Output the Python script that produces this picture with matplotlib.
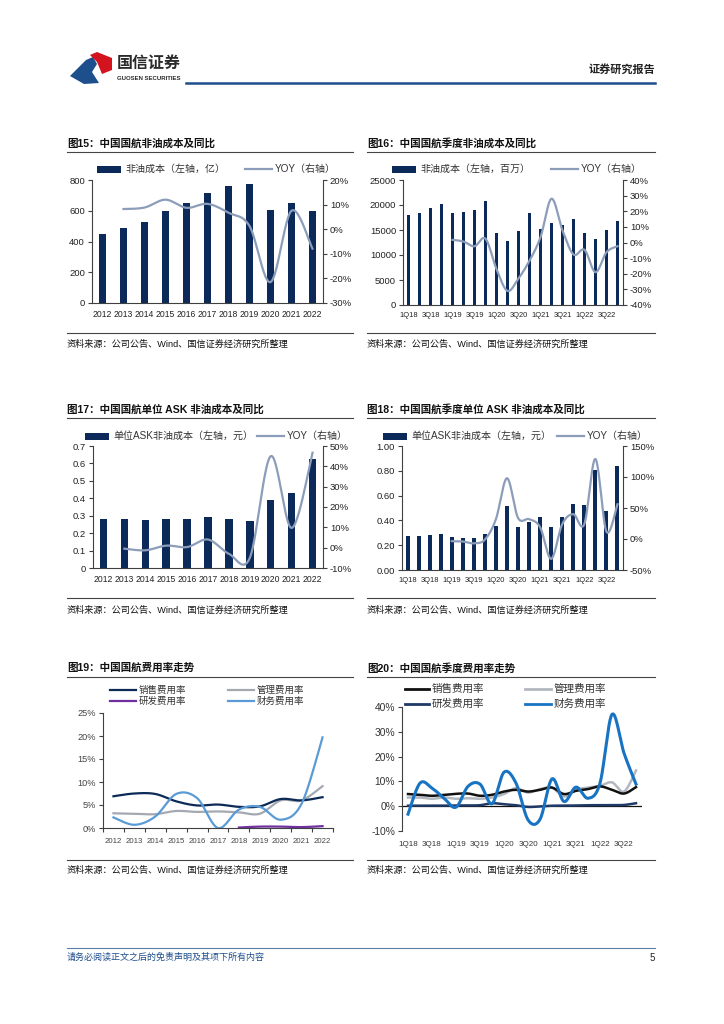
import numpy as np
import matplotlib
matplotlib.use('Agg')
import matplotlib.pyplot as plt
from matplotlib.patches import Rectangle, Polygon
from matplotlib.lines import Line2D
from matplotlib.ticker import FuncFormatter

plt.rcParams['font.family'] = ['Liberation Sans', 'Noto Sans CJK SC']

# ---- data ----
years = ['2012', '2013', '2014', '2015', '2016', '2017', '2018', '2019', '2020', '2021', '2022']
quarters = ['1Q18', '2Q18', '3Q18', '4Q18', '1Q19', '2Q19', '3Q19', '4Q19', '1Q20', '2Q20',
            '3Q20', '4Q20', '1Q21', '2Q21', '3Q21', '4Q21', '1Q22', '2Q22', '3Q22', '4Q22']
nan = np.nan

# fig15: annual non-fuel cost (亿) and yoy (%)
cost_y = [450, 487, 530, 597, 648, 715, 763, 773, 603, 648, 597]
cost_y_yoy = [nan, 8.2, 8.8, 12.0, 8.7, 10.3, 6.7, 1.3, -21.5, 7.5, -7.9]

# fig16: quarterly non-fuel cost (百万) and yoy (%)
cost_q = [18100, 18400, 19500, 20300, 18500, 18700, 19100, 20900, 14500, 12900,
          14900, 18500, 15300, 16500, 16100, 17300, 14500, 13300, 15100, 16900]
cost_q_yoy = [nan, nan, nan, nan, 1.7, 0.6, -2.4, 2.4, -17.0, -31.0,
              -23.0, -11.6, 3.4, 28.0, 7.7, -7.7, -4.7, -19.0, -6.2, -2.4]

# fig17: annual unit ASK non-fuel cost (元) and yoy (%)
ask_y = [0.28, 0.28, 0.275, 0.28, 0.28, 0.29, 0.28, 0.27, 0.39, 0.43, 0.625]
ask_y_yoy = [nan, -0.5, -1.3, 1.0, 0.3, 4.0, -3.0, -5.0, 45.0, 9.7, 46.7]

# fig18: quarterly unit ASK non-fuel cost (元) and yoy (%)
ask_q = [0.275, 0.272, 0.28, 0.29, 0.265, 0.26, 0.262, 0.29, 0.355, 0.515,
         0.35, 0.385, 0.425, 0.35, 0.425, 0.535, 0.525, 0.805, 0.475, 0.835]
ask_q_yoy = [nan, nan, nan, nan, -3.5, -4.0, -7.0, -1.0, 32.0, 98.0,
             34.0, 32.0, 19.0, -32.0, 24.0, 40.0, 24.0, 129.0, 12.0, 56.0]

# fig19: annual expense ratios (%)
sales_y = [6.9, 7.5, 7.4, 5.8, 4.9, 5.1, 4.6, 4.7, 6.3, 6.0, 6.7]
admin_y = [3.2, 3.1, 3.0, 3.7, 3.5, 3.6, 3.4, 3.1, 6.0, 6.0, 9.1]
rnd_y = [nan, nan, nan, nan, nan, nan, 0.1, 0.3, 0.3, 0.2, 0.4]
fin_y = [2.3, 0.7, 2.5, 7.4, 6.5, 0.0, 4.0, 4.6, 1.8, 5.3, 19.7]

# fig20: quarterly expense ratios (%)
sales_q = [4.9, 4.6, 4.2, 4.6, 5.0, 5.1, 4.2, 4.6, 5.9, 6.6,
           5.9, 6.6, 7.5, 4.9, 6.2, 6.9, 8.0, 6.6, 5.1, 7.7]
admin_q = [3.5, 3.5, 3.0, 3.5, 3.0, 3.2, 3.0, 3.5, 4.9, 7.3,
           5.5, 6.9, 7.5, 3.9, 6.6, 7.5, 8.2, 9.6, 5.9, 14.4]
rnd_q = [0.2, 0.2, 0.2, 0.2, 0.3, 0.3, 0.4, 1.2, 0.8, 0.4,
         -0.3, -0.1, 0.2, 0.2, 0.3, 0.4, 0.4, 0.4, 0.5, 1.2]
fin_q = [-3.2, 9.3, 7.3, 3.2, -0.4, 8.0, 8.9, 1.0, 13.7, 9.3,
         -5.5, -5.3, 11.0, 1.9, 7.7, 3.2, 9.3, 37.0, 21.4, 8.9]

NAVY = '#0b2a59'
YOY_C = '#8c9dba'
AX_C = '#404040'
TXT_C = '#222222'
W, H = 724, 1024

fig = plt.figure(figsize=(7.24, 10.24), dpi=100)


def add_ax(x0, y0, x1, y1):
    return fig.add_axes([x0 / W, 1 - y1 / H, (x1 - x0) / W, (y1 - y0) / H])


def ftxt(x, y, s, **kw):
    kw.setdefault('va', 'center')
    kw.setdefault('color', TXT_C)
    fig.text(x / W, 1 - y / H, s, **kw)


def hline(x0, x1, y, color='#444444', lw=0.8):
    fig.add_artist(Line2D([x0 / W, x1 / W], [1 - y / H, 1 - y / H], color=color, lw=lw))


def leg_bar(x, y, label, w=24, h=7, size=7.2):
    fig.add_artist(Rectangle((x / W, 1 - (y + h / 2) / H), w / W, h / H,
                             transform=fig.transFigure, color=NAVY, lw=0))
    ftxt(x + w + 4, y, label, fontsize=size, color='#333333')


def leg_line(x, y, label, color, w=27, lw=1.6, size=7.2):
    fig.add_artist(Line2D([x / W, (x + w) / W], [1 - y / H, 1 - y / H], color=color, lw=lw))
    ftxt(x + w + 3, y, label, fontsize=size, color='#333333')


def smooth(x, y, n=24):
    # Catmull-Rom curve through the points (like Excel smoothed lines)
    x = np.asarray(x, float)
    y = np.asarray(y, float)
    ok = ~np.isnan(y)
    x, y = x[ok], y[ok]
    px = np.concatenate([[x[0]], x, [x[-1]]])
    py = np.concatenate([[y[0]], y, [y[-1]]])
    t = np.linspace(0, 1, n, endpoint=False)
    xs, ys = [], []
    for i in range(1, len(px) - 2):
        for arr, out in ((px, xs), (py, ys)):
            a0, a1, a2, a3 = arr[i - 1:i + 3]
            out.append(0.5 * (2 * a1 + (-a0 + a2) * t + (2 * a0 - 5 * a1 + 4 * a2 - a3) * t ** 2
                              + (-a0 + 3 * a1 - 3 * a2 + a3) * t ** 3))
    xs.append([x[-1]])
    ys.append([y[-1]])
    return np.concatenate(xs), np.concatenate(ys)


def style_spines(ax, show):
    for s in ['top', 'right', 'left', 'bottom']:
        ax.spines[s].set_visible(s in show)
        ax.spines[s].set_color(AX_C)
        ax.spines[s].set_linewidth(0.8)


def bar_line(box, labels, bars, yoy, lim_l, step_l, fmt_l, lim_r, step_r, every=1, width=0.38,
             xsize=6.2):
    ax = add_ax(*box)
    x = np.arange(len(bars))
    ax.bar(x, bars, width=width, color=NAVY, zorder=2)
    ax.set_xlim(-0.5, len(bars) - 0.5)
    ax.set_ylim(*lim_l)
    ax.set_yticks(np.arange(lim_l[0], lim_l[1] + step_l / 2, step_l))
    ax.yaxis.set_major_formatter(FuncFormatter(fmt_l))
    ax.set_xticks(x[::every])
    ax.set_xticklabels(labels[::every])
    ax.tick_params(axis='x', length=0, pad=5, labelsize=xsize, colors=TXT_C)
    ax.tick_params(axis='y', length=3, width=0.8, direction='out', labelsize=6.8, pad=2,
                   colors=AX_C, labelcolor=TXT_C)
    style_spines(ax, ['left', 'bottom'])
    ax2 = ax.twinx()
    sx, sy = smooth(x, yoy)
    ax2.plot(sx, sy, color=YOY_C, lw=1.6, zorder=3)
    ax2.set_ylim(*lim_r)
    ax2.set_yticks(np.arange(lim_r[0], lim_r[1] + step_r / 2, step_r))
    ax2.yaxis.set_major_formatter(FuncFormatter(lambda v, p: f'{v:.0f}%'))
    ax2.tick_params(axis='y', length=3, width=0.8, direction='out', labelsize=6.8, pad=2,
                    colors=AX_C, labelcolor=TXT_C)
    style_spines(ax2, ['right'])
    return ax, ax2


# ---- header ----
fig.add_artist(Polygon([(70 / W, 1 - 76 / H), (86 / W, 1 - 60 / H), (93 / W, 1 - 57 / H),
                        (97 / W, 1 - 64 / H), (92 / W, 1 - 72 / H), (99 / W, 1 - 83 / H),
                        (84 / W, 1 - 84 / H)],
                       closed=True, transform=fig.transFigure, color='#1d4f8c', lw=0))
fig.add_artist(Polygon([(90 / W, 1 - 55 / H), (97 / W, 1 - 52 / H), (112 / W, 1 - 58 / H),
                        (112 / W, 1 - 70 / H), (102 / W, 1 - 74 / H), (97 / W, 1 - 62 / H)],
                       closed=True, transform=fig.transFigure, color='#d3141f', lw=0))
ftxt(117, 63, '国信证券', fontsize=11.5, fontweight='bold', color='#2a2a2a')
ftxt(117, 78, 'GUOSEN SECURITIES', fontsize=4.3, fontweight='bold', color='#2a2a2a')
ftxt(655, 69, '证券研究报告', fontsize=8, fontweight='bold', color='#222222', ha='right')
hline(186, 655, 83, color='#1f4e8c', lw=1.8)

# ---- footer ----
hline(67, 655, 948, color='#5a7fa8', lw=0.8)
ftxt(67, 957, '请务必阅读正文之后的免责声明及其项下所有内容', fontsize=6.5,
     color='#1f4e8c', style='italic')
ftxt(655, 958, '5', fontsize=7, ha='right', color='#222222')

# ---- titles / frame lines / sources ----
titles = [
    (67, 143, '图15：中国国航非油成本及同比'),
    (367, 143, '图16：中国国航季度非油成本及同比'),
    (67, 409, '图17：中国国航单位 ASK 非油成本及同比'),
    (367, 409, '图18：中国国航季度单位 ASK 非油成本及同比'),
    (67, 668, '图19：中国国航费用率走势'),
    (367, 668, '图20：中国国航季度费用率走势'),
]
for x, y, s in titles:
    ftxt(x, y, s, fontsize=7.6, fontweight='bold', color='#111111')
for y in [152, 418, 677, 333, 598, 860]:
    hline(67, 353, y)
    hline(367, 655, y)
src = '资料来源：公司公告、Wind、国信证券经济研究所整理'
for y in [344, 610, 870]:
    ftxt(67, y, src, fontsize=6.6, color='#111111')
    ftxt(367, y, src, fontsize=6.6, color='#111111')

# ---- fig15 ----
bar_line((92, 180, 323, 303), years, cost_y, cost_y_yoy, (0, 800), 200,
         lambda v, p: f'{v:.0f}', (-30, 20), 10)
leg_bar(97, 169, '非油成本（左轴，亿）')
leg_line(245, 169, 'YOY（右轴）', YOY_C)

# ---- fig16 ----
bar_line((403, 180, 623, 305), quarters, cost_q, cost_q_yoy, (0, 25000), 5000,
         lambda v, p: f'{v:.0f}', (-40, 40), 10, every=2, width=0.36, xsize=5.4)
leg_bar(392, 169, '非油成本（左轴，百万）')
leg_line(551, 169, 'YOY（右轴）', YOY_C)

# ---- fig17 ----
bar_line((93, 446, 323, 568), years, ask_y, ask_y_yoy, (0, 0.7), 0.1,
         lambda v, p: '0' if abs(v) < 1e-9 else f'{v:.1f}', (-10, 50), 10, width=0.36)
leg_bar(85, 436, '单位ASK非油成本（左轴，元）')
leg_line(257, 436, 'YOY（右轴）', YOY_C)

# ---- fig18 ----
bar_line((402, 446, 623, 570), quarters, ask_q, ask_q_yoy, (0, 1.0), 0.2,
         lambda v, p: f'{v:.2f}', (-50, 150), 50, every=2, width=0.36, xsize=5.4)
leg_bar(383, 436, '单位ASK非油成本（左轴，元）')
leg_line(557, 436, 'YOY（右轴）', YOY_C)

# ---- fig19 ----
ax5 = add_ax(103, 713, 333, 828)
x5 = np.arange(len(years))
for vals, c in [(admin_y, '#a4a9b1'), (sales_y, '#0c2a55'), (rnd_y, '#7030a0'), (fin_y, '#5b9bd5')]:
    sx, sy = smooth(x5, vals)
    ax5.plot(sx, sy, color=c, lw=1.6)
ax5.set_xlim(-0.5, len(years) - 0.5)
ax5.set_ylim(0, 25)
ax5.set_yticks(np.arange(0, 26, 5))
ax5.yaxis.set_major_formatter(FuncFormatter(lambda v, p: f'{v:.0f}%'))
ax5.set_xticks(x5)
ax5.set_xticklabels(years)
ax5.set_xticks(np.arange(-0.5, len(years), 1), minor=True)
ax5.tick_params(axis='x', which='major', length=0, pad=7, labelsize=5.6, labelcolor='#444444')
ax5.tick_params(axis='x', which='minor', length=3, width=0.8, color=AX_C)
ax5.tick_params(axis='y', length=3, width=0.8, labelsize=6.6, pad=2, color=AX_C, labelcolor='#444444')
style_spines(ax5, ['left', 'bottom'])
leg_line(110, 690, '销售费用率', '#0c2a55', w=26, size=6.8)
leg_line(228, 690, '管理费用率', '#a4a9b1', w=26, size=6.8)
leg_line(110, 701, '研发费用率', '#7030a0', w=26, size=6.8)
leg_line(228, 701, '财务费用率', '#5b9bd5', w=26, size=6.8)

# ---- fig20 ----
ax6 = add_ax(402, 707, 642, 831)
x6 = np.arange(len(quarters))
ax6.axhline(0, color='#111111', lw=0.9, zorder=1)
for vals, c, lw in [(admin_q, '#b3b8c0', 1.8), (sales_q, '#111111', 1.8),
                    (rnd_q, '#1f3a66', 1.8), (fin_q, '#1874c2', 2.2)]:
    sx, sy = smooth(x6, vals)
    ax6.plot(sx, sy, color=c, lw=lw, zorder=2)
ax6.set_xlim(-0.5, len(quarters) - 0.5)
ax6.set_ylim(-10, 40)
ax6.set_yticks(np.arange(-10, 41, 10))
ax6.yaxis.set_major_formatter(FuncFormatter(lambda v, p: f'{v:.0f}%'))
ax6.set_xticks(x6[::2])
ax6.set_xticklabels(quarters[::2])
ax6.tick_params(axis='x', length=0, pad=7, labelsize=5.8, labelcolor='#333333')
ax6.tick_params(axis='y', length=3, width=0.8, labelsize=7.4, pad=2, color=AX_C, labelcolor='#333333')
style_spines(ax6, ['left'])
leg_line(405, 689, '销售费用率', '#111111', w=24, lw=2.0, size=7.6)
leg_line(525, 689, '管理费用率', '#b3b8c0', w=26, lw=2.0, size=7.6)
leg_line(405, 704, '研发费用率', '#1f3a66', w=24, lw=2.0, size=7.6)
leg_line(525, 704, '财务费用率', '#1874c2', w=26, lw=2.0, size=7.6)

fig.savefig('out.png', dpi=100, facecolor='white')
